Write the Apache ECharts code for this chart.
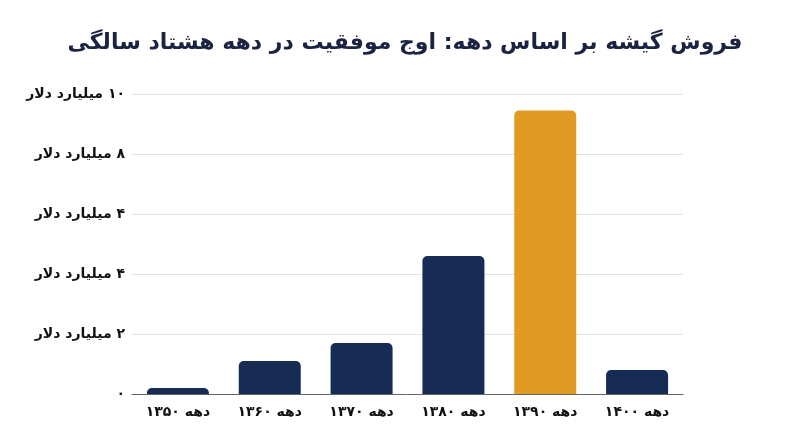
<!DOCTYPE html>
<html>
<head>
<meta charset="utf-8">
<script src="https://cdn.jsdelivr.net/npm/echarts@6/dist/echarts.min.js"></script>
<style>
  html, body { margin: 0; padding: 0; background: #fff; }
</style>
</head>
<body>
<div id="main" dir="rtl" style="width: 800px; height: 447px;"></div>
<script>
// داده‌های نمودار
const categories = ["دهه ۱۳۵۰", "دهه ۱۳۶۰", "دهه ۱۳۷۰", "دهه ۱۳۸۰", "دهه ۱۳۹۰", "دهه ۱۴۰۰"];
const sales = [0.2, 1.1, 1.7, 4.6, 9.45, 0.8];
const highlightIndex = 4;
const yTickLabels = ["۰", "۲ میلیارد دلار", "۴ میلیارد دلار", "۴ میلیارد دلار", "۸ میلیارد دلار", "۱۰ میلیارد دلار"];
const titleText = "فروش گیشه بر اساس دهه: اوج موفقیت در دهه هشتاد سالگی";

const chartDom = document.getElementById("main");
const myChart = echarts.init(chartDom);

const font = "DejaVu Sans";

const option = {
  backgroundColor: "#fff",
  title: {
    text: titleText,
    left: 400,
    textAlign: "center",
    top: 27,
    textStyle: {
      fontFamily: font,
      fontSize: 22,
      fontWeight: "bold",
      color: "#1b2342",
    },
  },
  grid: {
    left: 132,
    right: 117,
    top: 94,
    bottom: 53,
  },
  xAxis: {
    type: "category",
    data: categories,
    axisLine: { lineStyle: { color: "#666", width: 1 } },
    axisTick: { show: false },
    axisLabel: {
      margin: 11,
      fontFamily: font,
      fontSize: 14,
      fontWeight: "bold",
      color: "#111",
    },
  },
  yAxis: {
    type: "value",
    min: 0,
    max: 10,
    interval: 2,
    axisLine: { show: false },
    axisTick: { show: false },
    splitLine: { lineStyle: { color: "#e2e2e4", width: 1 } },
    axisLabel: {
      margin: 7,
      fontFamily: font,
      fontSize: 14,
      fontWeight: "bold",
      color: "#111",
      formatter: (v) => yTickLabels[Math.round(v / 2)],
    },
  },
  series: [
    {
      type: "bar",
      barWidth: 62,
      data: sales.map((v, i) => ({
        value: v,
        itemStyle: { color: i === highlightIndex ? "#e29b22" : "#162c54" },
      })),
      itemStyle: { borderRadius: [5, 5, 0, 0] },
    },
  ],
};

option && myChart.setOption(option);
</script>
</body>
</html>
